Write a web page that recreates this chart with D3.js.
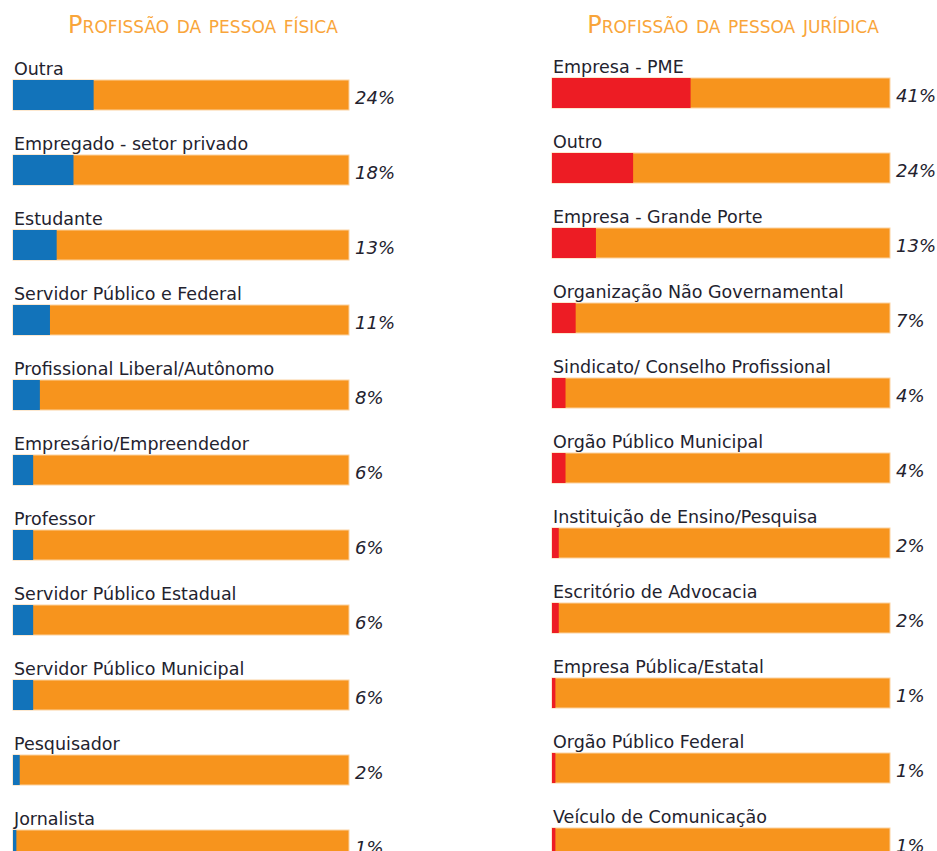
<!DOCTYPE html>
<html>
<head>
<meta charset="utf-8">
<script src="https://cdn.jsdelivr.net/npm/d3@7"></script>
<style>
  body { margin: 0; background: #fff; }
  svg { display: block; }
</style>
</head>
<body>
<div id="chart"></div>
<script>
// left panel data
let fisicaCategories = ["Outra", "Empregado - setor privado", "Estudante", "Servidor Público e Federal",
  "Profissional Liberal/Autônomo", "Empresário/Empreendedor", "Professor", "Servidor Público Estadual",
  "Servidor Público Municipal", "Pesquisador", "Jornalista"];
let fisicaValues = [24, 18, 13, 11, 8, 6, 6, 6, 6, 2, 1];
let fisicaLabels = ["24%", "18%", "13%", "11%", "8%", "6%", "6%", "6%", "6%", "2%", "1%"];

// right panel data
let juridicaCategories = ["Empresa - PME", "Outro", "Empresa - Grande Porte", "Organização Não Governamental",
  "Sindicato/ Conselho Profissional", "Orgão Público Municipal", "Instituição de Ensino/Pesquisa",
  "Escritório de Advocacia", "Empresa Pública/Estatal", "Orgão Público Federal", "Veículo de Comunicação"];
let juridicaValues = [41, 24, 13, 7, 4, 4, 2, 2, 1, 1, 1];
let juridicaLabels = ["41%", "24%", "13%", "7%", "4%", "4%", "2%", "2%", "1%", "1%", "1%"];

let svgWidth = 937;
let svgHeight = 851;
let step = 75;

let svg = d3.select("#chart")
  .append("svg")
  .attr("width", svgWidth)
  .attr("height", svgHeight);

function drawPanel(opts) {
  let g = svg.append("g");
  let n = opts.categories.length;
  //band scale for the rows
  let yScale = d3.scaleBand()
    .domain(opts.categories)
    .range([opts.top, opts.top + step * (n - 0.6)])
    .paddingInner(0.6)
    .paddingOuter(0);
  //linear scale for the percentage
  let xScale = d3.scaleLinear()
    .domain([0, 100])
    .range([opts.left, opts.left + opts.width]);

  g.append("text")
    .attr("x", opts.titleX)
    .attr("y", 33)
    .attr("text-anchor", "middle")
    .style("font-family", "'DejaVu Sans', sans-serif")
    .style("font-variant", "small-caps")
    .style("font-size", "24px")
    .style("fill", "#f9a53a")
    .text(opts.title);

  let rows = g.selectAll(".row")
    .data(opts.categories)
    .enter()
    .append("g")
    .attr("class", "row");

  // full orange background bar
  rows.append("rect")
    .attr("x", xScale(0))
    .attr("y", d => yScale(d))
    .attr("width", xScale(100) - xScale(0))
    .attr("height", yScale.bandwidth())
    .attr("fill", "#f7941d")
    .attr("stroke", "#fbd2a0")
    .attr("stroke-width", 1);

  // share bar
  rows.append("rect")
    .attr("x", xScale(0))
    .attr("y", d => yScale(d))
    .attr("width", (d, i) => xScale(opts.values[i]) - xScale(0))
    .attr("height", yScale.bandwidth())
    .attr("fill", opts.color);

  rows.append("text")
    .attr("x", opts.left + 1)
    .attr("y", d => yScale(d) - 5)
    .style("font-family", "'DejaVu Sans', sans-serif")
    .style("font-size", "17.5px")
    .style("fill", "#23222e")
    .text(d => d);

  rows.append("text")
    .attr("x", xScale(100) + 6)
    .attr("y", d => yScale(d) + 24)
    .style("font-family", "'DejaVu Sans', sans-serif")
    .style("font-style", "italic")
    .style("font-size", "18px")
    .style("fill", "#23222e")
    .text((d, i) => opts.labels[i]);
}

drawPanel({
  title: "Profissão da pessoa física",
  titleX: 203,
  categories: fisicaCategories,
  values: fisicaValues,
  labels: fisicaLabels,
  color: "#1273ba",
  left: 13,
  width: 336,
  top: 80
});

drawPanel({
  title: "Profissão da pessoa jurídica",
  titleX: 733,
  categories: juridicaCategories,
  values: juridicaValues,
  labels: juridicaLabels,
  color: "#ed1c24",
  left: 552,
  width: 338,
  top: 78
});
</script>
</body>
</html>
